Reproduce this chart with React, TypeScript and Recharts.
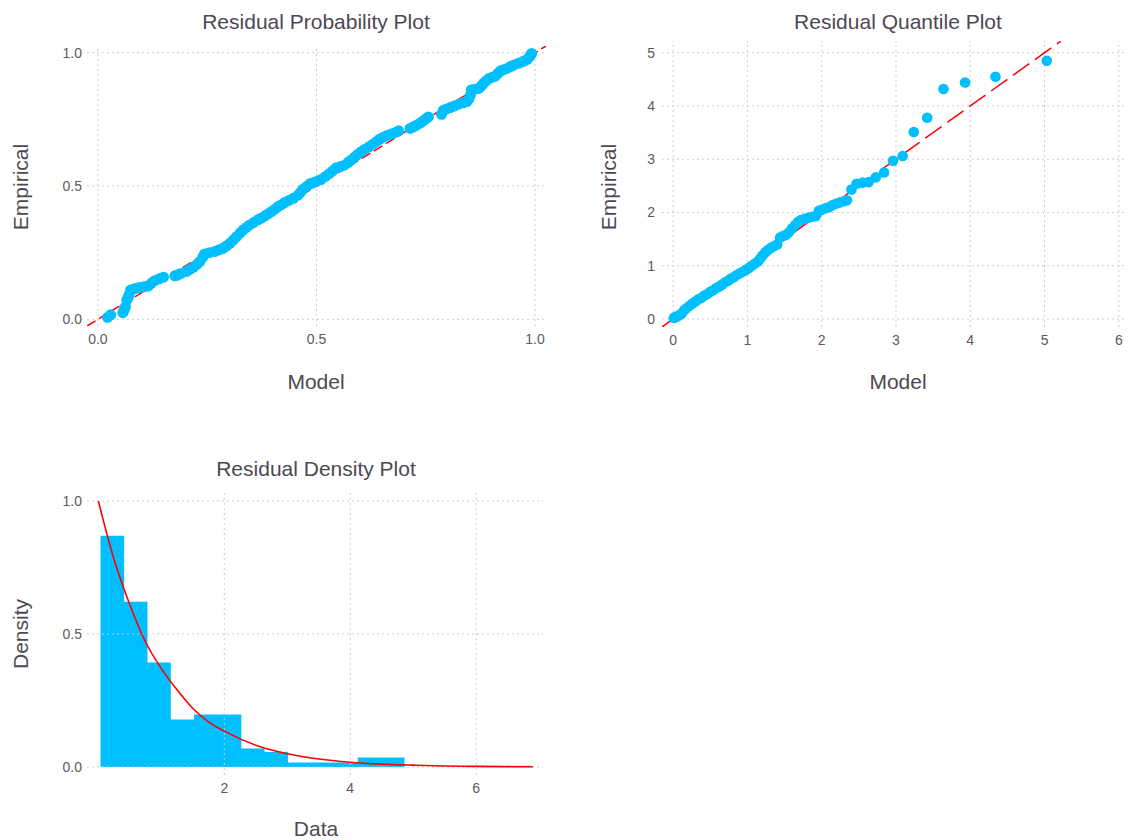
import { ComposedChart, Scatter, Line, Area, XAxis, YAxis, ReferenceLine } from 'recharts';

// probability plot (model vs empirical)
const probModel = [
  0.022, 0.029, 0.057, 0.06, 0.063, 0.066, 0.069, 0.071, 0.075, 0.082, 0.088, 0.095, 0.105, 0.115,
  0.122, 0.13, 0.14, 0.15, 0.176, 0.182, 0.19, 0.202, 0.21, 0.218, 0.226, 0.233, 0.24, 0.244, 0.255,
  0.267, 0.276, 0.286, 0.294, 0.302, 0.31, 0.317, 0.325, 0.332, 0.34, 0.347, 0.356, 0.366, 0.374,
  0.382, 0.39, 0.397, 0.405, 0.412, 0.42, 0.427, 0.437, 0.447, 0.458, 0.464, 0.469, 0.477, 0.485,
  0.491, 0.5, 0.51, 0.52, 0.529, 0.537, 0.545, 0.555, 0.564, 0.572, 0.579, 0.587, 0.594, 0.602, 0.61,
  0.62, 0.629, 0.637, 0.644, 0.652, 0.66, 0.668, 0.675, 0.682, 0.688, 0.714, 0.722, 0.729, 0.737,
  0.744, 0.75, 0.756, 0.786, 0.79, 0.798, 0.806, 0.815, 0.825, 0.835, 0.844, 0.849, 0.852, 0.854,
  0.862, 0.871, 0.877, 0.882, 0.888, 0.894, 0.902, 0.909, 0.915, 0.921, 0.928, 0.936, 0.944, 0.952,
  0.962, 0.971, 0.977, 0.982, 0.987, 0.99, 0.992,
];
const probEmpirical = [
  0.007, 0.017, 0.025, 0.035, 0.048, 0.072, 0.082, 0.091, 0.11, 0.114, 0.117, 0.119, 0.122, 0.125,
  0.135, 0.145, 0.152, 0.158, 0.163, 0.166, 0.172, 0.179, 0.187, 0.195, 0.205, 0.216, 0.233, 0.245,
  0.25, 0.254, 0.26, 0.266, 0.275, 0.285, 0.298, 0.31, 0.323, 0.335, 0.345, 0.354, 0.363, 0.373,
  0.38, 0.388, 0.396, 0.404, 0.413, 0.423, 0.43, 0.438, 0.446, 0.454, 0.466, 0.477, 0.488, 0.498,
  0.508, 0.511, 0.517, 0.524, 0.535, 0.546, 0.557, 0.568, 0.573, 0.578, 0.588, 0.597, 0.608, 0.618,
  0.628, 0.637, 0.647, 0.657, 0.666, 0.675, 0.682, 0.688, 0.693, 0.697, 0.702, 0.707, 0.716, 0.722,
  0.728, 0.736, 0.744, 0.752, 0.759, 0.769, 0.784, 0.789, 0.794, 0.8, 0.807, 0.812, 0.816, 0.828,
  0.841, 0.86, 0.863, 0.866, 0.875, 0.885, 0.894, 0.903, 0.908, 0.912, 0.922, 0.932, 0.936, 0.941,
  0.948, 0.954, 0.96, 0.966, 0.97, 0.975, 0.984, 0.991, 0.997,
];

// quantile plot
const quantModel = [
  0.01, 0.03, 0.06, 0.09, 0.12, 0.15, 0.18, 0.22, 0.26, 0.3, 0.34, 0.38, 0.42, 0.46, 0.5, 0.54, 0.58,
  0.62, 0.66, 0.7, 0.74, 0.78, 0.82, 0.86, 0.9, 0.94, 0.98, 1.02, 1.06, 1.1, 1.14, 1.17, 1.2, 1.24,
  1.28, 1.32, 1.36, 1.4, 1.44, 1.48, 1.52, 1.56, 1.6, 1.64, 1.68, 1.72, 1.77, 1.82, 1.87, 1.92, 1.96,
  2.0, 2.05, 2.1, 2.15, 2.2, 2.25, 2.3, 2.34, 2.4, 2.47, 2.55, 2.63, 2.73, 2.84, 2.96, 3.09, 3.24,
  3.42, 3.64, 3.93, 4.34, 5.03,
];
const quantEmpirical = [
  0.02, 0.04, 0.05, 0.08, 0.11, 0.17, 0.2, 0.25, 0.29, 0.33, 0.37, 0.4, 0.44, 0.47, 0.51, 0.54, 0.58,
  0.61, 0.65, 0.69, 0.72, 0.76, 0.79, 0.83, 0.86, 0.89, 0.92, 0.96, 1.0, 1.04, 1.08, 1.13, 1.19, 1.25,
  1.3, 1.34, 1.37, 1.4, 1.53, 1.56, 1.58, 1.63, 1.7, 1.76, 1.82, 1.86, 1.88, 1.9, 1.92, 1.93, 2.03,
  2.05, 2.08, 2.1, 2.14, 2.17, 2.19, 2.21, 2.23, 2.43, 2.54, 2.56, 2.57, 2.66, 2.75, 2.97, 3.06, 3.51,
  3.78, 4.32, 4.44, 4.55, 4.85,
];

// density histogram
const binEdges = [0.035, 0.41, 0.78, 1.15, 1.52, 1.9, 2.27, 2.64, 3.01, 3.38, 3.75, 4.12, 4.49, 4.86];
const binDensity = [0.869, 0.621, 0.393, 0.179, 0.197, 0.197, 0.07, 0.056, 0.017, 0.017, 0.017, 0.036, 0.036];

// fitted density curve
const curveX = [0, 0.25, 0.5, 0.75, 1, 1.25, 1.5, 1.75, 2, 2.5, 3, 3.5, 4, 4.5, 5, 5.5, 6, 6.5, 6.9];
const curveY = [1.0, 0.78, 0.61, 0.47, 0.37, 0.29, 0.22, 0.17, 0.135, 0.082, 0.05, 0.03, 0.018, 0.011, 0.007, 0.004, 0.0025, 0.0015, 0.001];

// tick values
const probTicks = [0, 0.5, 1];
const quantXTicks = [0, 1, 2, 3, 4, 5, 6];
const quantYTicks = [0, 1, 2, 3, 4, 5];
const densXTicks = [2, 4, 6];
const densYTicks = [0, 0.5, 1];

const probPoints = probModel.map((x, i) => ({ x, y: probEmpirical[i] }));
const quantPoints = quantModel.map((x, i) => ({ x, y: quantEmpirical[i] }));
const probRef = [{ x: -0.025, y: -0.025 }, { x: 1.025, y: 1.025 }];
const quantRef = [{ x: -0.15, y: -0.15 }, { x: 5.22, y: 5.22 }];
const histSteps = binEdges.map((x, i) => ({ x, y: binDensity[Math.min(i, binDensity.length - 1)] }));
const curvePoints = curveX.map((x, i) => ({ x, y: curveY[i] }));

const BLUE = '#00bfff';
const RED = '#ff0000';
const GRID = '#cdcadf';
const TEXT = '#4d4852';
const FONT = '"Liberation Sans", Arial, Helvetica, sans-serif';
const tickStyle = { fill: '#5e5864', fontSize: 14, fontFamily: FONT };

const one = (v: number) => v.toFixed(1);

function Caption({ x, y, text, rotate = false }: { x: number; y: number; text: string; rotate?: boolean }) {
  return (
    <div
      style={{
        position: 'absolute',
        left: x,
        top: y,
        transform: `translate(-50%, -50%)${rotate ? ' rotate(-90deg)' : ''}`,
        whiteSpace: 'nowrap',
        lineHeight: 1,
        fontSize: 21,
        fontFamily: FONT,
        color: TEXT,
      }}
    >
      {text}
    </div>
  );
}

const dot = (r: number) => (p: any) => <circle cx={p.cx} cy={p.cy} r={r} fill={BLUE} />;

// dotted grid lines only at the tick values
const gridLines = (xTicks: number[], yTicks: number[]) => [
  ...xTicks.map((t) => <ReferenceLine key={'gx' + t} x={t} stroke={GRID} strokeDasharray="2 3" />),
  ...yTicks.map((t) => <ReferenceLine key={'gy' + t} y={t} stroke={GRID} strokeDasharray="2 3" />),
];

export default function App() {
  return (
    <div style={{ position: 'absolute', left: 0, top: 0, width: 1131, height: 840, background: '#fff' }}>
      <div style={{ position: 'absolute', left: 0, top: 0 }}>
        <ComposedChart width={560} height={400} margin={{ top: 46, right: 14, bottom: 44, left: 47 }}>
          <XAxis type="number" dataKey="x" domain={[-0.025, 1.025]} allowDataOverflow ticks={probTicks}
            tickFormatter={one} axisLine={false} tickLine={false} tickSize={0} tickMargin={8} height={30} tick={tickStyle} />
          <YAxis type="number" dataKey="y" domain={[-0.025, 1.025]} allowDataOverflow ticks={probTicks}
            tickFormatter={one} axisLine={false} tickLine={false} tickSize={0} tickMargin={5} width={40} tick={tickStyle} />
          {gridLines(probTicks, probTicks)}
          <Line data={probRef} dataKey="y" stroke={RED} strokeWidth={1.5} strokeDasharray="10 4" dot={false} isAnimationActive={false} />
          <Scatter data={probPoints} shape={dot(5.5)} isAnimationActive={false} />
        </ComposedChart>
      </div>

      <div style={{ position: 'absolute', left: 570, top: 0 }}>
        <ComposedChart width={561} height={400} margin={{ top: 41, right: 7, bottom: 43, left: 52 }}>
          <XAxis type="number" dataKey="x" domain={[-0.15, 6.07]} allowDataOverflow ticks={quantXTicks}
            axisLine={false} tickLine={false} tickSize={0} tickMargin={8} height={30} tick={tickStyle} />
          <YAxis type="number" dataKey="y" domain={[-0.15, 5.22]} allowDataOverflow ticks={quantYTicks}
            axisLine={false} tickLine={false} tickSize={0} tickMargin={7} width={40} tick={tickStyle} />
          {gridLines(quantXTicks, quantYTicks)}
          <Line data={quantRef} dataKey="y" stroke={RED} strokeWidth={1.5} strokeDasharray="20 7" dot={false} isAnimationActive={false} />
          <Scatter data={quantPoints} shape={dot(5.3)} isAnimationActive={false} />
        </ComposedChart>
      </div>

      <div style={{ position: 'absolute', left: 0, top: 440 }}>
        <ComposedChart width={560} height={400} margin={{ top: 53, right: 17, bottom: 35, left: 47 }}>
          <XAxis type="number" dataKey="x" domain={[-0.18, 7.06]} allowDataOverflow ticks={densXTicks}
            axisLine={false} tickLine={false} tickSize={0} tickMargin={8} height={30} tick={tickStyle} />
          <YAxis type="number" dataKey="y" domain={[-0.03, 1.03]} allowDataOverflow ticks={densYTicks}
            tickFormatter={one} axisLine={false} tickLine={false} tickSize={0} tickMargin={5} width={40} tick={tickStyle} />
          {gridLines(densXTicks, densYTicks)}
          <Area data={histSteps} dataKey="y" type="stepAfter" baseValue={0} fill={BLUE} fillOpacity={1} stroke="none" isAnimationActive={false} />
          <Line data={curvePoints} dataKey="y" type="monotone" stroke={RED} strokeWidth={1.6} dot={false} isAnimationActive={false} />
        </ComposedChart>
      </div>

      <Caption x={316} y={20.5} text="Residual Probability Plot" />
      <Caption x={898} y={20.5} text="Residual Quantile Plot" />
      <Caption x={316} y={467.5} text="Residual Density Plot" />
      <Caption x={316} y={380.5} text="Model" />
      <Caption x={898} y={380.5} text="Model" />
      <Caption x={316} y={827.5} text="Data" />
      <Caption x={20} y={186.5} text="Empirical" rotate />
      <Caption x={608} y={186.5} text="Empirical" rotate />
      <Caption x={20} y={634} text="Density" rotate />
    </div>
  );
}
